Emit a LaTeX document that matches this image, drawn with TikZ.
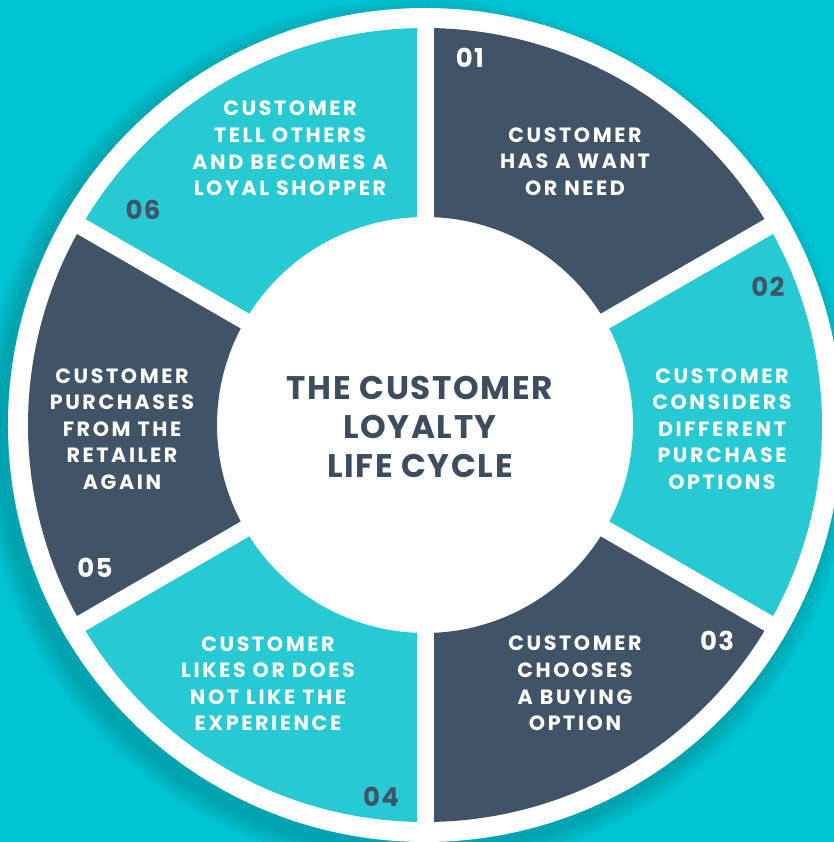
\documentclass[tikz,border=0pt]{standalone}
\usepackage{fontspec}
\setmainfont{Poppins}
\newfontfamily\stepfont{Poppins}[LetterSpace=12.5]
\newfontfamily\titlefont{Poppins}[LetterSpace=5.0]
\usepackage{tikz}
\usetikzlibrary{positioning}

\definecolor{cyanbg}{HTML}{00C3D3}
\definecolor{segteal}{HTML}{27CAD3}
\definecolor{segslate}{HTML}{415467}
\definecolor{titleslate}{HTML}{3D4D5F}

\begin{document}
\begin{tikzpicture}[x=0.75pt, y=0.75pt]
    % Styles
    \tikzstyle{steptext} = [text=white, font=\stepfont\bfseries\fontsize{15.5}{19.9}\selectfont, align=center, inner sep=0pt]
    \tikzstyle{stepnum} = [font=\titlefont\bfseries\fontsize{19.5}{19.5}\selectfont, inner sep=0pt]
    \tikzstyle{titletext} = [text=titleslate, font=\titlefont\bfseries\fontsize{24.5}{29}\selectfont, align=center, inner sep=0pt]
    \tikzstyle{gap} = [white, line width=12.75pt]

    % Background and soft shadow
    \useasboundingbox (-425,-417) rectangle (409,425);
    \fill[cyanbg] (-425,-417) rectangle (409,425);
    \foreach \i in {1,...,10}
        \fill[black, opacity=0.015] (-8,-10) circle (417+2*\i);
    \fill[white] (0,0) circle (417);

    % Ring segments
    \foreach \a/\b/\c in {30/90/segslate, -30/30/segteal, -90/-30/segslate, 210/270/segteal, 150/210/segslate, 90/150/segteal}
        \fill[\c] (\a:208) arc[start angle=\a, end angle=\b, radius=208] -- (\b:397) arc[start angle=\b, end angle=\a, radius=397] -- cycle;
    \foreach \a in {30,90,...,330}
        \draw[gap] (0,0) -- (\a:405);

    % Nodes
    \node [titletext] (title) at (-5,-2) {THE CUSTOMER\\LOYALTY\\LIFE CYCLE};

    \node [steptext] (step1) at (150,263.5) {CUSTOMER\\HAS A WANT\\OR NEED};
    \node [stepnum, text=white] (num1) at (45,367) {01};

    \node [steptext] (step2) at (297,-4) {CUSTOMER\\CONSIDERS\\DIFFERENT\\PURCHASE\\OPTIONS};
    \node [stepnum, text=segslate] (num2) at (343,138) {02};

    \node [steptext] (step3) at (150,-258.5) {CUSTOMER\\CHOOSES\\A BUYING\\OPTION};
    \node [stepnum, text=white] (num3) at (292,-216) {03};

    \node [steptext] (step4) at (-157,-258.5) {CUSTOMER\\LIKES OR DOES\\NOT LIKE THE\\EXPERIENCE};
    \node [stepnum, text=segslate] (num4) at (-44,-372) {04};

    \node [steptext] (step5) at (-303,-4) {CUSTOMER\\PURCHASES\\FROM THE\\RETAILER\\AGAIN};
    \node [stepnum, text=white] (num5) at (-330,-143) {05};

    \node [steptext] (step6) at (-135,276.5) {CUSTOMER\\TELL OTHERS\\AND BECOMES A\\LOYAL SHOPPER};
    \node [stepnum, text=segslate] (num6) at (-282,215) {06};
\end{tikzpicture}
\end{document}
